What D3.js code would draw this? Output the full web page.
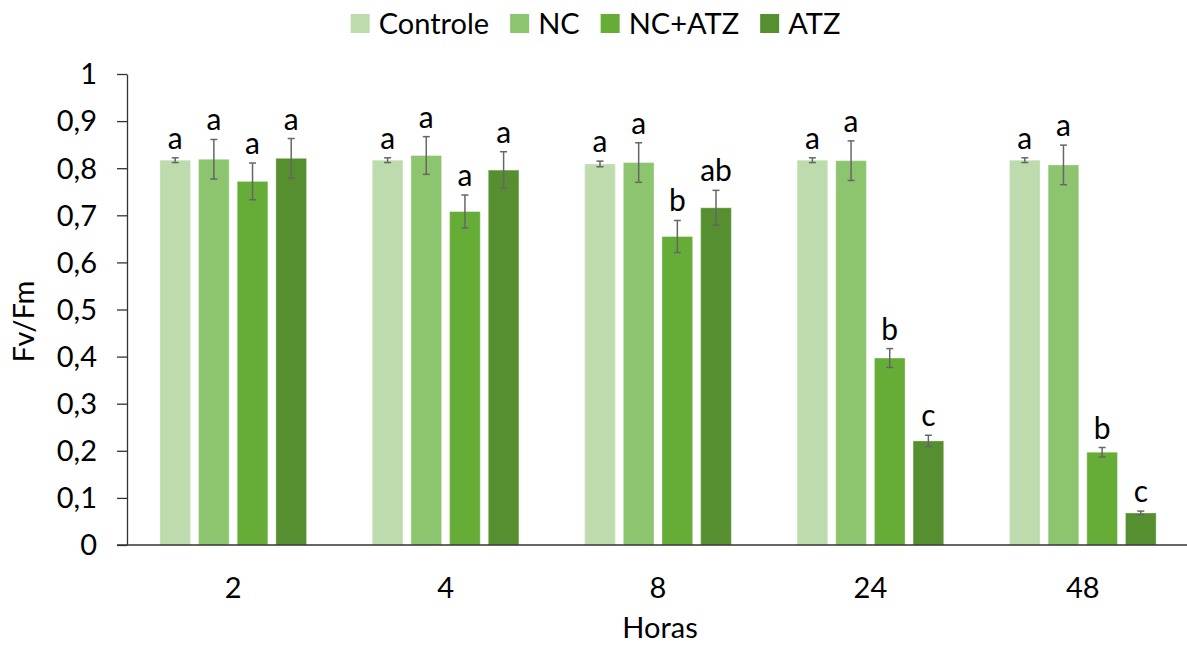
<!DOCTYPE html>
<html>
<head>
<meta charset="utf-8">
<script src="https://cdn.jsdelivr.net/npm/d3@7"></script>
<style>
  body { margin: 0; background: #fff; }
  svg text { font-family: Lato, "Open Sans", sans-serif; fill: #000; }
</style>
</head>
<body>
<div id="chart"></div>
<script>
// data
const horas = ["2", "4", "8", "24", "48"];
const series = ["Controle", "NC", "NC+ATZ", "ATZ"];
const colors = ["#bddbac", "#8dc56f", "#66ad38", "#558f2f"];

const controle = [0.817, 0.817, 0.809, 0.817, 0.817];
const nc       = [0.819, 0.827, 0.812, 0.816, 0.807];
const ncAtz    = [0.772, 0.708, 0.655, 0.397, 0.197];
const atz      = [0.821, 0.796, 0.716, 0.221, 0.068];

const errControle = [0.005, 0.005, 0.006, 0.005, 0.005];
const errNc       = [0.042, 0.040, 0.042, 0.042, 0.042];
const errNcAtz    = [0.039, 0.035, 0.034, 0.020, 0.010];
const errAtz      = [0.042, 0.039, 0.037, 0.012, 0.004];

const lettersControle = ["a", "a", "a", "a", "a"];
const lettersNc       = ["a", "a", "a", "a", "a"];
const lettersNcAtz    = ["a", "a", "b", "b", "b"];
const lettersAtz      = ["a", "a", "ab", "c", "c"];

const yTicks = [0, 0.1, 0.2, 0.3, 0.4, 0.5, 0.6, 0.7, 0.8, 0.9, 1];

const values = [controle, nc, ncAtz, atz];
const errs = [errControle, errNc, errNcAtz, errAtz];
const letters = [lettersControle, lettersNc, lettersNcAtz, lettersAtz];

const W = 1187, H = 646;
const m = {top: 74, right: -2, bottom: 101, left: 127};

const svg = d3.select("#chart").append("svg")
    .attr("width", W).attr("height", H);

const x0 = d3.scaleBand().domain(horas)
    .range([m.left, W - m.right]).paddingInner(0).paddingOuter(0);
const x1 = d3.scaleBand().domain(series)
    .range([0, x0.bandwidth()]).paddingInner(0.207).paddingOuter(0.85);
const y = d3.scaleLinear().domain([0, 1]).range([H - m.bottom, m.top]);

// bars
const cells = [];
horas.forEach((h, i) => series.forEach((s, j) => {
    cells.push({h, s, j, v: values[j][i], e: errs[j][i], l: letters[j][i]});
}));

const g = svg.append("g");
g.selectAll("rect").data(cells).enter().append("rect")
    .attr("x", d => x0(d.h) + x1(d.s))
    .attr("y", d => y(d.v))
    .attr("width", x1.bandwidth())
    .attr("height", d => y(0) - y(d.v))
    .attr("fill", d => colors[d.j])
    .attr("stroke", "rgba(255,255,255,0.35)")
    .attr("stroke-width", 1);

// error bars
const eb = g.selectAll(".err").data(cells).enter().append("g")
    .attr("class", "err")
    .attr("stroke", "#666").attr("stroke-width", 1.5);
const cx = d => x0(d.h) + x1(d.s) + x1.bandwidth() / 2;
eb.append("line")
    .attr("x1", cx).attr("x2", cx)
    .attr("y1", d => y(d.v + d.e)).attr("y2", d => y(d.v - d.e));
eb.append("line")
    .attr("x1", d => cx(d) - 3.5).attr("x2", d => cx(d) + 3.5)
    .attr("y1", d => y(d.v + d.e)).attr("y2", d => y(d.v + d.e));
eb.append("line")
    .attr("x1", d => cx(d) - 3.5).attr("x2", d => cx(d) + 3.5)
    .attr("y1", d => y(d.v - d.e)).attr("y2", d => y(d.v - d.e));

// significance letters
g.selectAll(".lt").data(cells).enter().append("text")
    .attr("class", "lt")
    .attr("x", cx)
    .attr("y", d => y(d.v + d.e) - 9)
    .attr("text-anchor", "middle")
    .style("font-size", "30px")
    .text(d => d.l);

// y axis
const yAxis = svg.append("g")
    .attr("transform", `translate(${m.left},0)`)
    .call(d3.axisLeft(y).tickValues(yTicks).tickSize(10).tickSizeOuter(0)
        .tickFormat(d => d3.format(".1~f")(d).replace(".", ",")));
yAxis.select(".domain").attr("stroke", "#333").attr("stroke-width", 1.3);
yAxis.selectAll(".tick line").attr("stroke", "#333").attr("stroke-width", 1.3);
yAxis.selectAll(".tick text").attr("x", -30).attr("dy", "0.34em")
    .style("font-size", "29px").attr("fill", "#000");

// x axis
const xAxis = svg.append("g")
    .attr("transform", `translate(0,${y(0)})`)
    .call(d3.axisBottom(x0).tickSize(0).tickSizeOuter(0));
xAxis.select(".domain").attr("stroke", "#333").attr("stroke-width", 1.3)
    .attr("d", `M${m.left - 10},0H${W}`);
xAxis.selectAll(".tick text").attr("y", 32).style("font-size", "29px")
    .attr("fill", "#000");

// axis titles
svg.append("text")
    .attr("x", (m.left + W) / 2 + 3).attr("y", 638)
    .attr("text-anchor", "middle").style("font-size", "29px")
    .text("Horas");
svg.append("text")
    .attr("transform", `translate(34,${(y(0) + y(1)) / 2 + 12}) rotate(-90)`)
    .attr("text-anchor", "middle").style("font-size", "29px")
    .text("Fv/Fm");

// legend
const leg = svg.append("g");
let lx = 0;
series.forEach((s, j) => {
    const it = leg.append("g").attr("transform", `translate(${lx},0)`);
    it.append("rect").attr("x", 0).attr("y", 14).attr("width", 19).attr("height", 19)
        .attr("fill", colors[j]);
    const t = it.append("text").attr("x", 28).attr("y", 34)
        .style("font-size", "29px").text(s);
    lx += 28 + t.node().getComputedTextLength() + 21;
});
const legW = lx - 21;
leg.attr("transform", `translate(${(353 + 838) / 2 - legW / 2},0)`);
</script>
</body>
</html>
